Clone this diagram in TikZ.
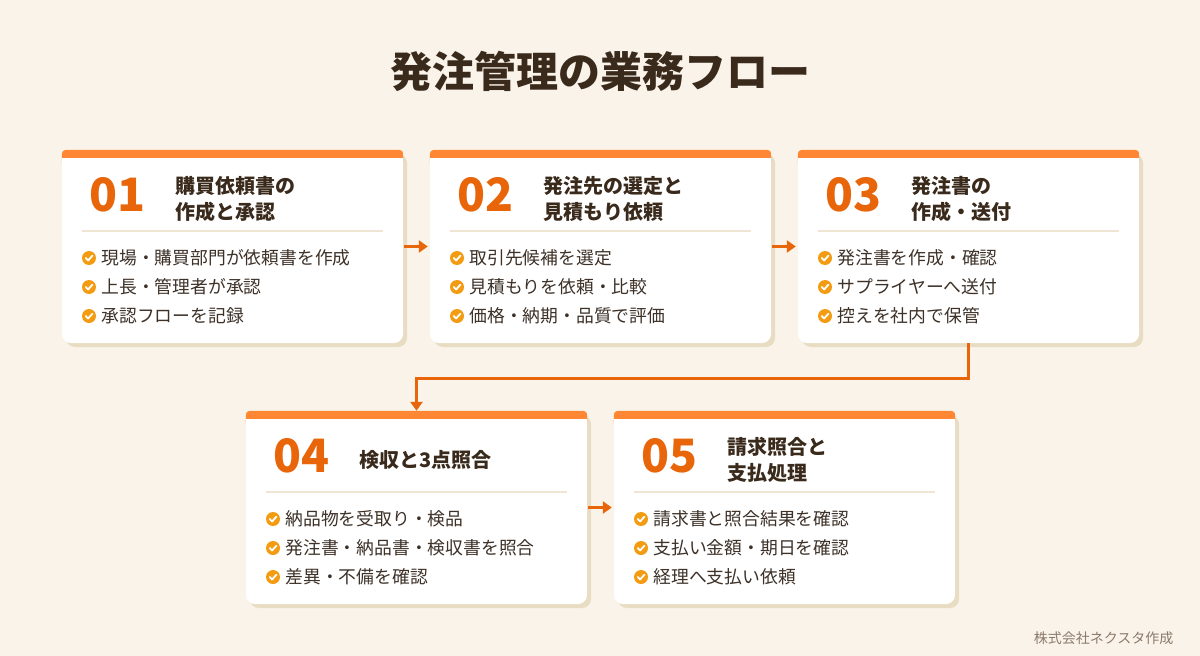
\documentclass[tikz,border=0pt]{standalone}
\usepackage{fontspec}
\setmainfont{Noto Sans CJK JP}
\usetikzlibrary{arrows.meta}
\definecolor{bgc}{HTML}{FAF3EA}
\definecolor{shadowc}{HTML}{E8DCC3}
\definecolor{barc}{HTML}{FF8633}
\definecolor{numc}{HTML}{E8650A}
\definecolor{iconc}{HTML}{F39C12}
\definecolor{linec}{HTML}{EFE5D2}
\definecolor{titc}{HTML}{3A2A1C}
\definecolor{txtc}{HTML}{3D3128}
\definecolor{notec}{HTML}{8C7B6B}
\tikzset{
  card/.style={fill=white,rounded corners=9pt,minimum width=341pt,minimum height=193pt,inner sep=0pt,
    preaction={fill=shadowc,transform canvas={shift={(4pt,-4pt)}}}},
  numtxt/.style={anchor=west,text=numc,font=\fontsize{46pt}{46pt}\selectfont\bfseries},
  ttltxt/.style={anchor=west,text=titc,align=left,font=\fontsize{20pt}{26pt}\selectfont\bfseries},
  itemtxt/.style={anchor=west,text=txtc,font=\fontsize{17.8pt}{20pt}\selectfont},
  flow/.style={draw=numc,line width=3pt,-{Triangle[length=9pt,width=12pt]}},
  chk/.pic={\fill[iconc] (0,0) circle (7pt);
    \draw[white,line width=1.8pt,line cap=round,line join=round] (-3.2,0) -- (-0.9,2.5) -- (3.4,-2.3);}
}
\begin{document}
\begin{tikzpicture}[x=1pt,y=-1pt]
\fill[bgc] (0,0) rectangle (1200,656);
\useasboundingbox (0,0) rectangle (1200,656);
\node[text=titc,font=\fontsize{42pt}{42pt}\selectfont\bfseries] (title) at (600,71) {発注管理の業務フロー};
\foreach \i/\x/\y/\num/\ttl/\lst in {
  1/62/150/01/{購買依頼書の\\作成と承認}/{現場・購買部門が依頼書を作成,上長・管理者が承認,承認フローを記録},
  2/430/150/02/{発注先の選定と\\見積もり依頼}/{取引先候補を選定,見積もりを依頼・比較,価格・納期・品質で評価},
  3/798/150/03/{発注書の\\作成・送付}/{発注書を作成・確認,サプライヤーへ送付,控えを社内で保管},
  4/246/411/04/{検収と3点照合}/{納品物を受取り・検品,発注書・納品書・検収書を照合,差異・不備を確認},
  5/614/411/05/{請求照合と\\支払処理}/{請求書と照合結果を確認,支払い金額・期日を確認,経理へ支払い依頼}}{
  \node[card] (c\i) at (\x+170.5,\y+96.5) {};
  \fill[barc,rounded corners=4pt] (c\i.north west) rectangle ([yshift=-16pt]c\i.north east);
  \fill[white] ([yshift=-8pt]c\i.north west) rectangle ([yshift=-20pt]c\i.north east);
  \node[numtxt] (n\i) at (\x+24,\y+45) {\num};
  \node[ttltxt] (t\i) at (\x+110,\y+49) {\ttl};
  \draw[linec,line width=2pt] (\x+20,\y+81) -- (\x+321,\y+81);
  \foreach \t [count=\k] in \lst {
    \pic at (\x+27,\y+79+29*\k) {chk};
    \node[itemtxt] (b\i\k) at (\x+36,\y+79+29*\k) {\t};
  }
}
\draw[flow,shorten <=1pt,shorten >=2pt] (c1.east) -- (c2.west);
\draw[flow,shorten <=1pt,shorten >=2pt] (c2.east) -- (c3.west);
\draw[flow,shorten <=1pt,shorten >=2pt] (c4.east) -- (c5.west);
\draw[flow,line join=miter] (c3.south) -- ++(0,35) -| (c4.north);
\node[anchor=east,text=notec,font=\fontsize{14pt}{14pt}\selectfont] (credit) at (1177,638) {株式会社ネクスタ作成};
\end{tikzpicture}
\end{document}
